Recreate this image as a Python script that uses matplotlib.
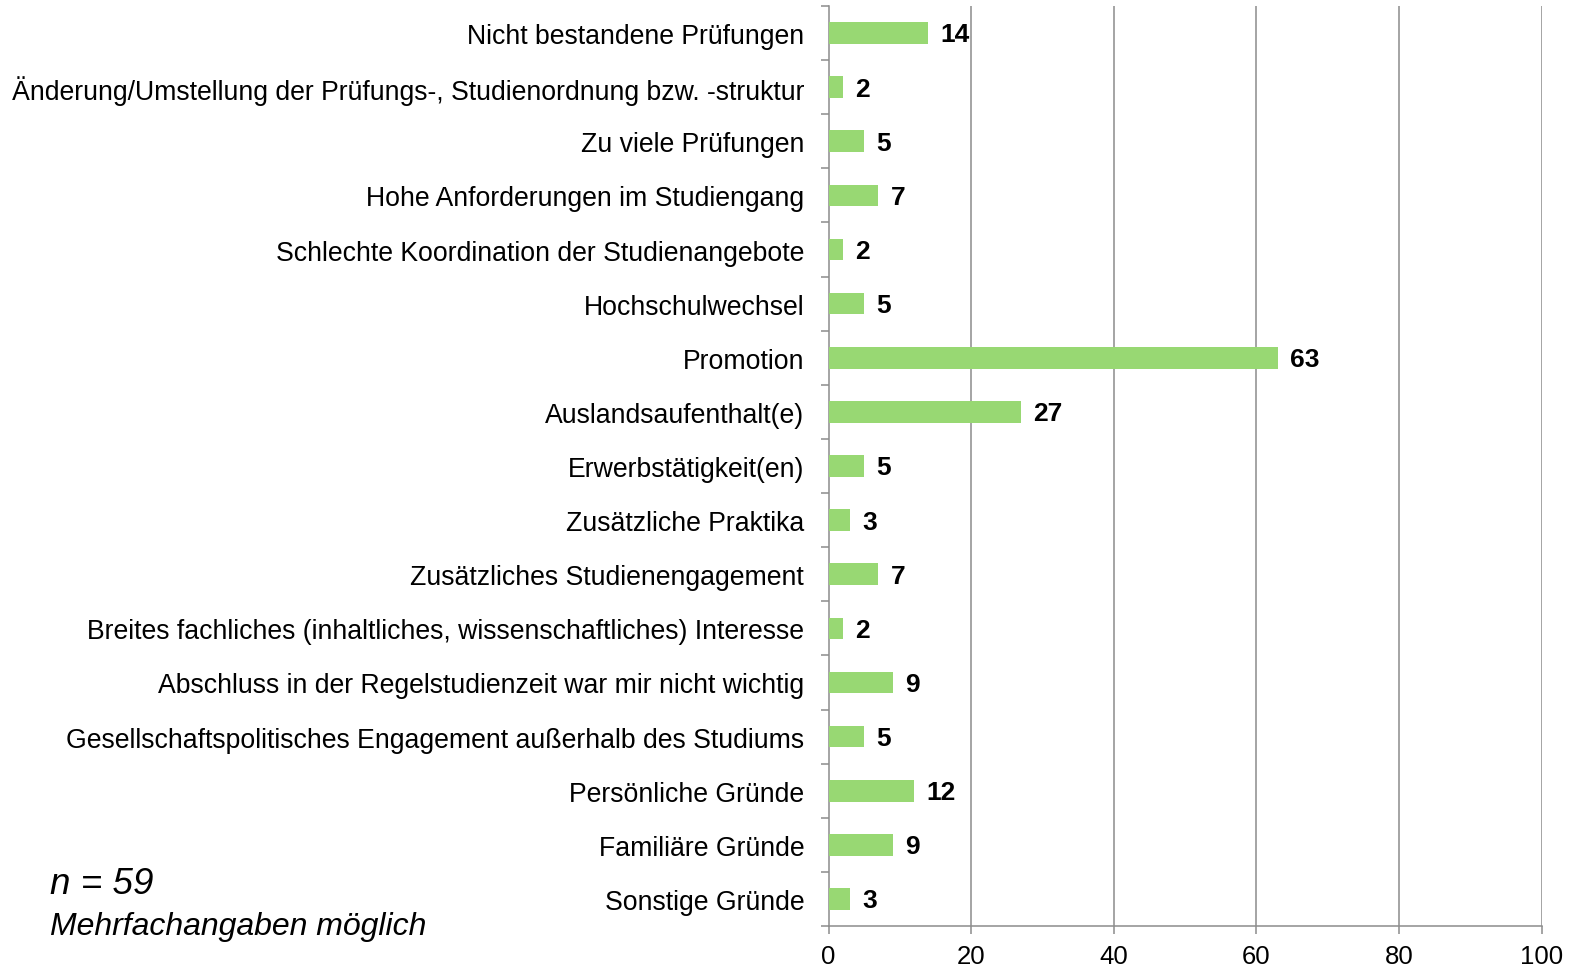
import matplotlib
matplotlib.use("Agg")
import matplotlib.pyplot as plt
import numpy as np

plt.rcParams['font.family'] = ['Liberation Sans', 'DejaVu Sans']

categories = [
    "Nicht bestandene Prüfungen",
    "Änderung/Umstellung der Prüfungs-, Studienordnung bzw. -struktur",
    "Zu viele Prüfungen",
    "Hohe Anforderungen im Studiengang",
    "Schlechte Koordination der Studienangebote",
    "Hochschulwechsel",
    "Promotion",
    "Auslandsaufenthalt(e)",
    "Erwerbstätigkeit(en)",
    "Zusätzliche Praktika",
    "Zusätzliches Studienengagement",
    "Breites fachliches (inhaltliches, wissenschaftliches) Interesse",
    "Abschluss in der Regelstudienzeit war mir nicht wichtig",
    "Gesellschaftspolitisches Engagement außerhalb des Studiums",
    "Persönliche Gründe",
    "Familiäre Gründe",
    "Sonstige Gründe",
]
values = [14, 2, 5, 7, 2, 5, 63, 27, 5, 3, 7, 2, 9, 5, 12, 9, 3]
x_ticks = [0, 20, 40, 60, 80, 100]
note_n = "n = 59"
note_multi = "Mehrfachangaben möglich"

W, H = 1572, 970
fig = plt.figure(figsize=(W / 100, H / 100), dpi=100)
ax = fig.add_axes([828.5 / W, 1 - 927 / H, (1541.5 - 828.5) / W, (927 - 7) / H])

grid_c = "#8c8c8c"
y = np.arange(len(categories))
ax.barh(y, values, height=0.4, color="#98d873", zorder=3)
for yi, v in zip(y, values):
    ax.annotate(str(v), (v, yi), xytext=(9, -1), textcoords="offset points",
                ha="left", va="center", fontsize=19, fontweight="bold", color="black", zorder=4)

ax.set_xlim(0, 100)
ax.set_ylim(len(categories) - 0.5, -0.5)
ax.set_xticks(x_ticks)
ax.set_xticklabels([str(t) for t in x_ticks], fontsize=18.5)
ax.set_yticks(y)
ax.set_yticklabels(categories, fontsize=19.2)
ax.set_yticks(np.arange(len(categories) + 1) - 0.5, minor=True)

ax.tick_params(axis="y", which="major", length=0, pad=17.5)
ax.tick_params(axis="y", which="minor", length=6, width=1.1, color=grid_c, direction="out")
ax.tick_params(axis="x", which="major", length=6, width=1.1, color=grid_c, pad=7)

for s in ["top", "right"]:
    ax.spines[s].set_visible(False)
for s in ["left", "bottom"]:
    ax.spines[s].set_color(grid_c)
    ax.spines[s].set_linewidth(1.1)

for t in x_ticks[1:]:
    ax.axvline(t, color=grid_c, linewidth=1.1, zorder=1)

fig.text(50 / W, 1 - 885 / H, note_n, fontsize=26.5, style="italic", ha="left", va="center")
fig.text(50 / W, 1 - 927 / H, note_multi, fontsize=23, style="italic", ha="left", va="center")

fig.savefig("out.png", dpi=100, facecolor="white")
